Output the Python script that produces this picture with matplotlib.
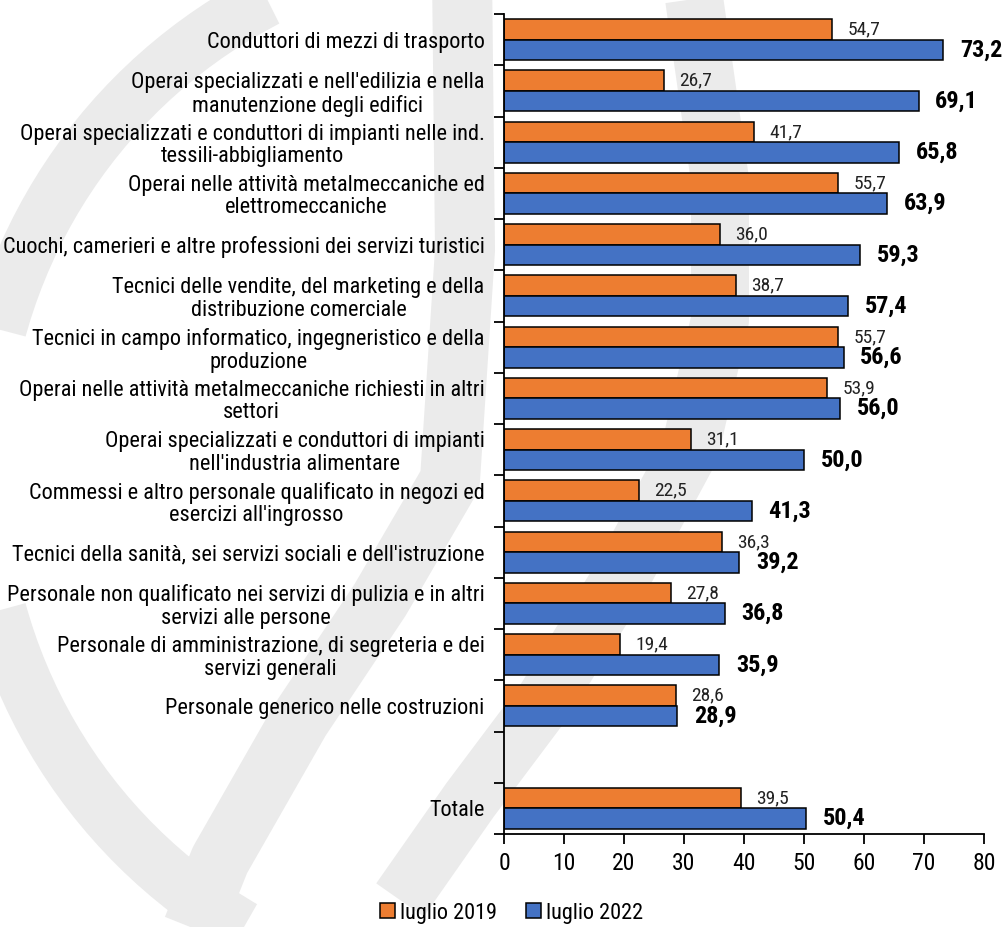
import numpy as np
import matplotlib
matplotlib.use("Agg")
from matplotlib import pyplot as plt
from matplotlib.lines import Line2D
from matplotlib.patches import Patch

plt.rcParams['font.family'] = ['Roboto Condensed', 'Liberation Sans', 'DejaVu Sans']

# dati
categorie = [
    "Conduttori di mezzi di trasporto",
    "Operai specializzati e nell'edilizia e nella\nmanutenzione degli edifici",
    "Operai specializzati e conduttori di impianti nelle ind.\ntessili-abbigliamento",
    "Operai nelle attività metalmeccaniche ed\nelettromeccaniche",
    "Cuochi, camerieri e altre professioni dei servizi turistici",
    "Tecnici delle vendite, del marketing e della\ndistribuzione comerciale",
    "Tecnici in campo informatico, ingegneristico e della\nproduzione",
    "Operai nelle attività metalmeccaniche richiesti in altri\nsettori",
    "Operai specializzati e conduttori di impianti\nnell'industria alimentare",
    "Commessi e altro personale qualificato in negozi ed\nesercizi all'ingrosso",
    "Tecnici della sanità, sei servizi sociali e dell'istruzione",
    "Personale non qualificato nei servizi di pulizia e in altri\nservizi alle persone",
    "Personale di amministrazione, di segreteria e dei\nservizi generali",
    "Personale generico nelle costruzioni",
    "",
    "Totale",
]
luglio_2019 = [54.7, 26.7, 41.7, 55.7, 36.0, 38.7, 55.7, 53.9, 31.1, 22.5, 36.3, 27.8, 19.4, 28.6, np.nan, 39.5]
luglio_2022 = [73.2, 69.1, 65.8, 63.9, 59.3, 57.4, 56.6, 56.0, 50.0, 41.3, 39.2, 36.8, 35.9, 28.9, np.nan, 50.4]
serie = ["luglio 2019", "luglio 2022"]
x_ticks = [0, 10, 20, 30, 40, 50, 60, 70, 80]

arancio = "#ED7D31"
blu = "#4472C4"
W, H = 1005, 927

fig = plt.figure(figsize=(W / 100, H / 100), dpi=100)

# filigrana grigia sullo sfondo (coordinate in pixel dell'immagine)
def banda(px, py, lw):
    px = np.asarray(px, float)
    py = np.asarray(py, float)
    fig.add_artist(Line2D(px / W, 1 - py / H, transform=fig.transFigure,
                          color="#ebebeb", lw=lw * 72 / 100, zorder=-1,
                          solid_capstyle="butt", solid_joinstyle="round"))

t = np.radians(np.linspace(110, 258, 80))
banda(510 + 530 * np.cos(t), 470 - 530 * np.sin(t), 55)
banda([462, 465, 450, 380, 300, 220, 180], [-30, 250, 480, 600, 720, 860, 960], 60)
banda([690, 720, 720, 690, 620, 545, 470, 400], [-30, 180, 320, 450, 580, 700, 800, 900], 58)

ax = fig.add_axes([504 / W, 1 - 834 / H, 480 / W, 820 / H])
ax.patch.set_alpha(0)

y = np.arange(len(categorie))
h = 0.4
ax.barh(y - h / 2, luglio_2019, height=h, color=arancio, edgecolor="black", linewidth=1.1, label=serie[0])
ax.barh(y + h / 2, luglio_2022, height=h, color=blu, edgecolor="black", linewidth=1.1, label=serie[1])

def fmt(v):
    return f"{v:.1f}".replace(".", ",")

for yi, v1, v2 in zip(y, luglio_2019, luglio_2022):
    if np.isnan(v1):
        continue
    ax.annotate(fmt(v1), (v1, yi - h / 2), xytext=(11, 0), textcoords="offset points",
                ha="left", va="center", fontsize=14, color="#222222")
    ax.annotate(fmt(v2), (v2, yi + h / 2), xytext=(12, 0), textcoords="offset points",
                ha="left", va="center", fontsize=17.5, fontweight="bold", color="black")

ax.set_xlim(0, 80)
ax.set_ylim(len(categorie) - 0.5, -0.5)
ax.set_xticks(x_ticks)
ax.set_xticklabels([str(v) for v in x_ticks], fontsize=17)
ax.tick_params(axis="x", length=7, width=1.3, direction="out", pad=6)

ax.set_yticks(y)
ax.set_yticklabels(categorie, fontsize=16, multialignment="center", linespacing=1.1)
ax.set_yticks(np.arange(-0.5, len(categorie)), minor=True)
ax.tick_params(axis="y", which="major", length=0, pad=14)
ax.tick_params(axis="y", which="minor", length=7, width=1.3, direction="out")

for s in ["top", "right"]:
    ax.spines[s].set_visible(False)
for s in ["left", "bottom"]:
    ax.spines[s].set_linewidth(1.3)

handles = [Patch(facecolor=arancio, edgecolor="black", linewidth=1.1),
           Patch(facecolor=blu, edgecolor="black", linewidth=1.1)]
fig.legend(handles, serie, loc="center", bbox_to_anchor=(512 / W, 1 - 913 / H), ncol=2,
           frameon=False, fontsize=16, handlelength=0.65, handleheight=0.65,
           handletextpad=0.25, columnspacing=1.3)

fig.savefig("out.png", dpi=100)
